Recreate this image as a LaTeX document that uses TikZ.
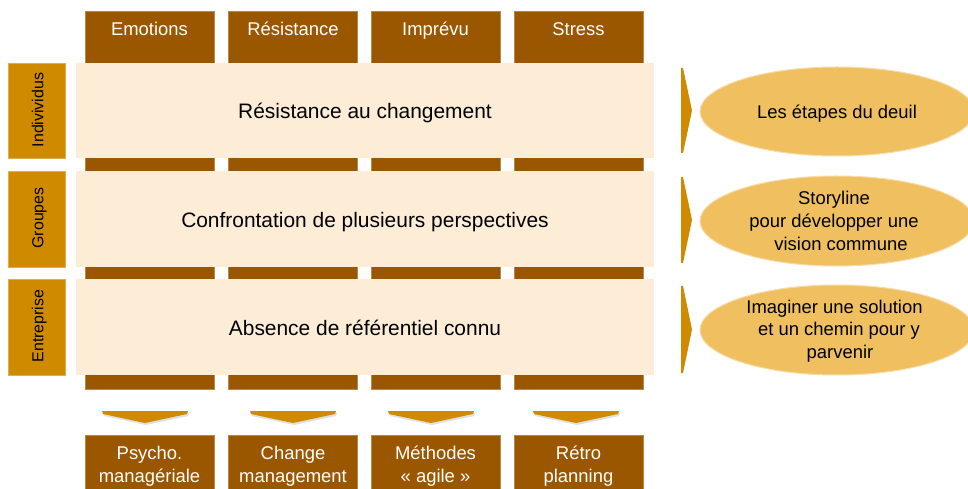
\documentclass[tikz,border=0pt]{standalone}
\usepackage{fontspec}
\setmainfont{Liberation Sans}
\usetikzlibrary{shapes.geometric}
\definecolor{brownc}{RGB}{155,86,0}
\definecolor{orangec}{RGB}{208,138,0}
\definecolor{bandc}{RGB}{253,236,214}
\definecolor{ellc}{RGB}{240,192,96}
\tikzset{
  colbar/.style={rectangle, fill=brownc, draw=brownc!70!white, line width=0.6bp, minimum width=129bp, inner sep=0pt, outer sep=0pt},
  coltext/.style={text=white, font=\fontsize{18.5}{22.5}\selectfont, anchor=base, inner sep=0pt},
  bandbox/.style={rectangle, fill=bandc, minimum width=578bp, inner sep=0pt, outer sep=0pt},
  bandtext/.style={font=\fontsize{21}{24}\selectfont, anchor=base, inner sep=0pt},
  sidebox/.style={rectangle, fill=orangec, draw=orangec!70!white, line width=0.6bp, minimum width=57bp, inner sep=0pt, outer sep=0pt},
  sidetext/.style={rotate=90, anchor=base, font=\fontsize{16}{18}\selectfont, inner sep=0pt},
  ellbox/.style={ellipse, fill=ellc, draw=ellc!55!white, line width=1bp, minimum width=274bp, inner sep=0pt},
  elltext/.style={font=\fontsize{18.5}{22.5}\selectfont, anchor=base, inner sep=0pt},
  chev/.style={fill=orangec}
}
\begin{document}
\begin{tikzpicture}[x=1bp,y=-1bp]
\useasboundingbox (0,0) rectangle (968,489);
\clip (0,0) rectangle (968,489);
\fill[white] (0,0) rectangle (968,489);

% vertical column bars
\foreach \i/\cx in {1/149.5,2/293,3/435.5,4/578.5}{
  \node[colbar, minimum height=378bp] (col\i) at (\cx,200) {};
}
\node[coltext] (t1) at (149.5,36) {Emotions};
\node[coltext] (t2) at (293,36) {Résistance};
\node[coltext] (t3) at (435.5,36) {Imprévu};
\node[coltext] (t4) at (578.5,36) {Stress};

% bands
\node[bandbox, minimum height=95bp] (b1) at (365,110.5) {};
\node[bandbox, minimum height=96bp] (b2) at (365,219) {};
\node[bandbox, minimum height=96bp] (b3) at (365,327) {};
\node[bandtext] (bt1) at (365,119) {Résistance au changement};
\node[bandtext] (bt2) at (365,227.5) {Confrontation de plusieurs perspectives};
\node[bandtext] (bt3) at (365,336) {Absence de référentiel connu};

% side labels
\node[sidebox, minimum height=95bp] (s1) at (36.5,110.5) {};
\node[sidebox, minimum height=96bp] (s2) at (36.5,219) {};
\node[sidebox, minimum height=96bp] (s3) at (36.5,327) {};
\node[sidetext] (st1) at (43.3,110) {Indivividus};
\node[sidetext] (st2) at (43.3,218) {Groupes};
\node[sidetext] (st3) at (43.3,326) {Entreprise};

% right chevrons
\foreach \cy/\h in {110.5/42.5,220/43,329.5/43.5}{
  \fill[chev] (681,\cy-\h) -- (683,\cy-\h) -- (692,\cy) -- (683,\cy+\h) -- (681,\cy+\h) -- cycle;
}

% ellipses
\node[ellbox, minimum height=89bp] (e1) at (837,111.5) {};
\node[ellbox, minimum height=90bp] (e2) at (837,221) {};
\node[ellbox, minimum height=90bp] (e3) at (837,330) {};
\node[elltext] (e1a) at (837,119) {Les étapes du deuil};
\node[elltext] (e2a) at (834,205) {Storyline};
\node[elltext] (e2b) at (834,227.8) {pour développer une};
\node[elltext] (e2c) at (841,250.3) {vision commune};
\node[elltext] (e3a) at (834.5,313.5) {Imaginer une solution};
\node[elltext] (e3b) at (839,336) {et un chemin pour y};
\node[elltext] (e3c) at (840,358.5) {parvenir};

% bottom chevrons
\foreach \cx in {145,293,431,576}{
  \fill[black!12] (\cx-42,413) -- (\cx+44,413) -- (\cx+43,416) -- (\cx+1,425) -- (\cx-41,416) -- cycle;
  \fill[chev] (\cx-43,411) -- (\cx+43,411) -- (\cx+42,414) -- (\cx,423) -- (\cx-42,414) -- cycle;
}

% bottom boxes
\node[colbar, minimum height=56bp] (bb1) at (149.5,463) {};
\node[colbar, minimum height=56bp] (bb2) at (293,463) {};
\node[colbar, minimum height=56bp] (bb3) at (435.5,463) {};
\node[colbar, minimum height=56bp] (bb4) at (578.5,463) {};
\node[coltext] (bl1a) at (149.5,459) {Psycho.};
\node[coltext] (bl1b) at (149.5,482) {managériale};
\node[coltext] (bl2a) at (293,459) {Change};
\node[coltext] (bl2b) at (293,482) {management};
\node[coltext] (bl3a) at (435.5,459) {Méthodes};
\node[coltext] (bl3b) at (435.5,482) {« agile »};
\node[coltext] (bl4a) at (578.5,459) {Rétro};
\node[coltext] (bl4b) at (578.5,482) {planning};
\end{tikzpicture}
\end{document}
